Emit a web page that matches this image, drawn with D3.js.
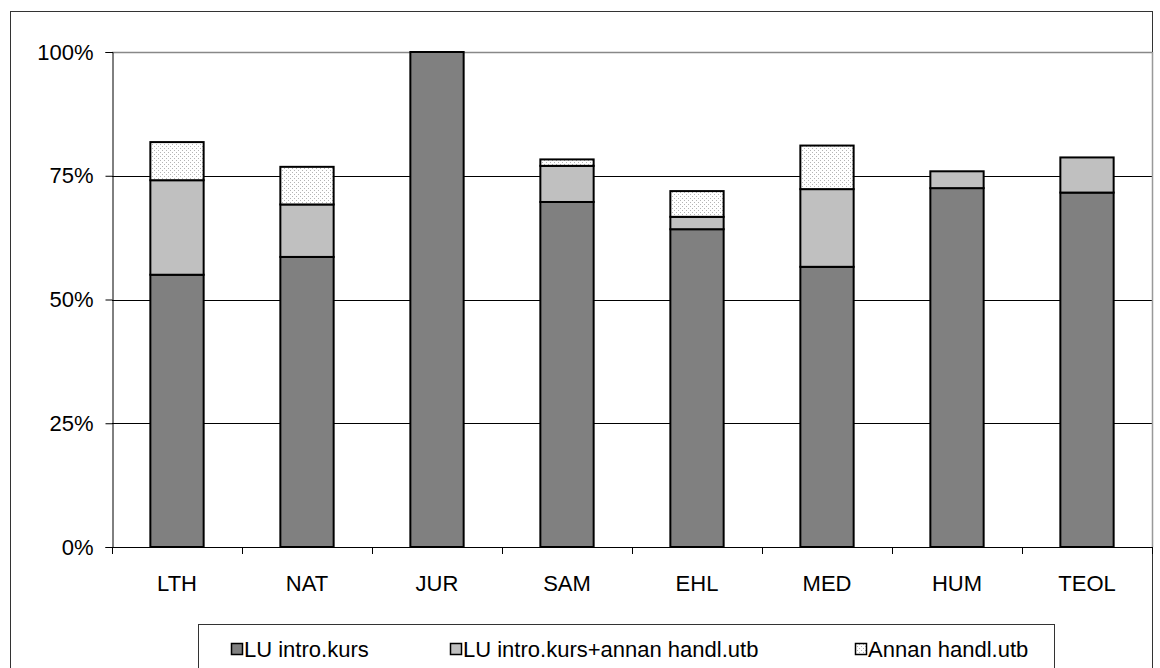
<!DOCTYPE html>
<html><head><meta charset="utf-8">
<script src="https://cdn.jsdelivr.net/npm/d3@7"></script>
<style>body{margin:0;background:#fff}svg{display:block;font-family:"Liberation Sans",Arial,sans-serif}</style>
</head><body><svg id="c" width="1160" height="668"></svg>
<script>
const categories = ["LTH","NAT","JUR","SAM","EHL","MED","HUM","TEOL"];
const seriesNames = ["LU intro.kurs","LU intro.kurs+annan handl.utb","Annan handl.utb"];
const luIntro = [55.0, 58.6, 100, 69.7, 64.2, 56.6, 72.5, 71.6];
const luIntroAnnan = [19.1, 10.6, 0, 7.3, 2.5, 15.7, 3.4, 7.1];
const annanHandl = [7.7, 7.6, 0, 1.3, 5.2, 8.8, 0, 0];
const yTicks = [0, 25, 50, 75, 100];

const svg = d3.select("#c");
const defs = svg.append("defs");
const pat = defs.append("pattern").attr("id","dots").attr("width",4).attr("height",4).attr("patternUnits","userSpaceOnUse");
pat.append("rect").attr("width",4).attr("height",4).attr("fill","#fff");
pat.append("rect").attr("x",0).attr("y",0).attr("width",1).attr("height",1).attr("fill","#b4b4b4");
pat.append("rect").attr("x",2).attr("y",2).attr("width",1).attr("height",1).attr("fill","#b4b4b4");
const fills = ["#808080","#c0c0c0","url(#dots)"];
const FONT = "Liberation Sans, Arial, sans-serif";
const FS = 22;

// outer border
svg.append("rect").attr("x",10.5).attr("y",11.5).attr("width",1142).attr("height",700).attr("fill","none").attr("stroke","#333").attr("stroke-width",1);

const L=112, R=1152, T=52, B=547;
const x = d3.scaleBand().domain(categories).range([L,R]).paddingInner(0.59).paddingOuter(0.295);
const y = d3.scaleLinear().domain([0,100]).range([B,T]);

// gridlines
svg.append("g").selectAll("line").data(yTicks.filter(d=>d>0)).join("line")
  .attr("x1",L).attr("x2",R).attr("y1",d=>Math.round(y(d))+0.5).attr("y2",d=>Math.round(y(d))+0.5)
  .attr("stroke",d=>d===100?"#888":"#000").attr("stroke-width",d=>d===100?1.5:1);
// plot right border
svg.append("line").attr("x1",R+0.5).attr("x2",R+0.5).attr("y1",T).attr("y2",B).attr("stroke","#999").attr("stroke-width",1.5);

// stacked bars
const data = categories.map((c,i)=>({cat:c, a:luIntro[i], b:luIntroAnnan[i], c:annanHandl[i]}));
const stack = d3.stack().keys(["a","b","c"])(data);
stack.forEach((layer,k)=>{
  svg.append("g").selectAll("rect").data(layer.filter(d=>d[1]-d[0]>0)).join("rect")
    .attr("x",d=>x(d.data.cat)).attr("width",x.bandwidth())
    .attr("y",d=>y(d[1])).attr("height",d=>y(d[0])-y(d[1]))
    .attr("fill",fills[k]).attr("stroke","#000").attr("stroke-width",2);
});

// y axis
const ya = svg.append("g").attr("transform",`translate(${L+0.5},0)`)
  .call(d3.axisLeft(y).tickValues(yTicks).tickFormat(d=>d+"%").tickSize(7).tickPadding(12));
ya.select(".domain").attr("stroke","#000");
ya.selectAll("line").attr("stroke","#000");
ya.selectAll("text").attr("font-size",FS).attr("fill","#000").attr("font-family",FONT);

// x axis
const xa = svg.append("g").attr("transform",`translate(0,${B+0.5})`)
  .call(d3.axisBottom(x).tickSize(0).tickPadding(28));
xa.select(".domain").attr("stroke","#000").attr("d",`M${L},0H${R}`);
xa.selectAll("text").attr("font-size",FS).attr("fill","#000").attr("font-family",FONT);
// x tick marks at band boundaries
svg.append("g").selectAll("line").data(d3.range(categories.length+1)).join("line")
  .attr("x1",i=>Math.round(L + i*(R-L)/categories.length)+0.5).attr("x2",i=>Math.round(L + i*(R-L)/categories.length)+0.5)
  .attr("y1",B).attr("y2",B+7).attr("stroke","#000");

// legend
svg.append("rect").attr("x",198.5).attr("y",624.5).attr("width",856).attr("height",80).attr("fill","#fff").attr("stroke","#333");
const legX = [231, 450, 855];
const lg = svg.append("g").selectAll("g").data(seriesNames).join("g")
  .attr("transform",(d,i)=>`translate(${legX[i]},0)`);
lg.append("rect").attr("x",0.5).attr("y",643.5).attr("width",11).attr("height",11).attr("fill",(d,i)=>fills[i]).attr("stroke","#000").attr("stroke-width",1.5);
lg.append("text").attr("x",13).attr("y",657).attr("font-size",FS).attr("font-family",FONT).attr("fill","#000").text(d=>d);
</script></body></html>
